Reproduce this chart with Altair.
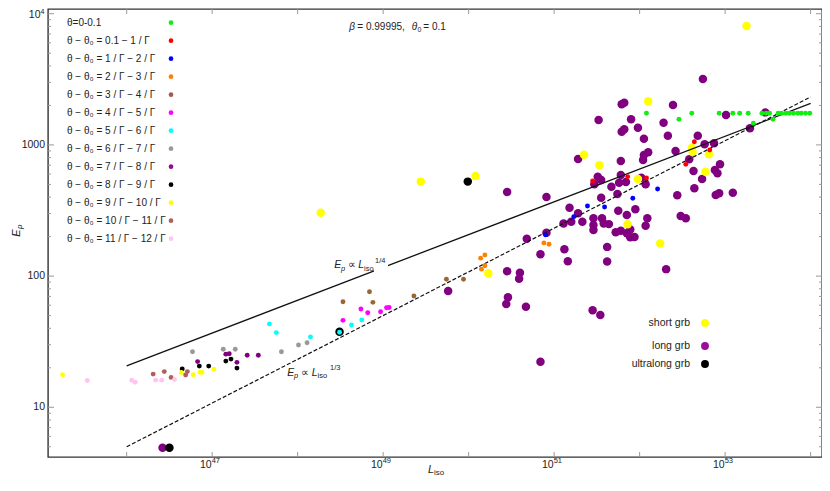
import altair as alt
import pandas as pd

# ---------------- values ----------------
# small points, one list pair per angle bin: log10(L_iso) and E_p
green_logL = [52.08, 52.46, 52.61, 52.93, 53.09, 53.17, 53.27, 53.33, 53.43, 53.48, 53.52,
              53.56, 53.62, 53.66, 53.71, 53.75, 53.80, 53.85, 53.89, 53.94, 53.99]
green_Ep = [1741, 1567, 1741, 1741, 1741, 1741, 1741, 1461, 1741, 1741, 1741,
            1567, 1741, 1741, 1741, 1741, 1741, 1741, 1741, 1741, 1741]
red_logL = [51.45, 51.86, 52.08, 52.54, 52.64, 52.82]
red_Ep = [531, 573, 560, 711, 1057, 914]
blue_logL = [50.90, 51.23, 51.39, 51.59, 51.92, 52.21]
blue_Ep = [206, 284, 342, 336, 392, 461]
orange_logL = [50.14, 50.19, 50.15, 50.19, 50.88, 50.94]
orange_Ep = [137, 145, 113, 120, 179, 175]
brown_logL = [48.53, 48.84, 48.88, 49.36, 49.74, 49.94]
brown_Ep = [63.8, 76.0, 63.1, 70.5, 94.6, 94.6]
magenta_logL = [48.53, 48.74, 48.82, 48.97, 49.04, 49.07]
magenta_Ep = [46.0, 56.1, 52.6, 53.5, 57.4, 57.6]
cyan_logL = [47.67, 47.75, 48.15, 48.49, 48.63, 48.75]
cyan_Ep = [43.2, 37.1, 34.4, 37.3, 42.4, 46.3]
gray_logL = [46.77, 47.13, 47.27, 47.81, 48.01, 48.11]
gray_Ep = [26.5, 27.7, 27.7, 26.5, 29.8, 31.0]
purple_logL = [46.83, 47.16, 47.20, 47.29, 47.41, 47.54]
purple_Ep = [22.3, 25.4, 25.6, 22.0, 24.9, 24.9]
black_logL = [46.65, 46.85, 46.96, 47.16, 47.22, 47.29]
black_Ep = [19.6, 20.6, 20.6, 22.5, 23.3, 19.9]
yellow_logL = [45.25, 46.64, 46.78, 46.86, 46.88, 47.02]
yellow_Ep = [17.7, 18.4, 17.7, 18.5, 18.5, 19.5]
rosy_logL = [46.31, 46.44, 46.52, 46.69, 46.71]
rosy_Ep = [17.9, 18.7, 16.9, 17.6, 18.7]
pink_logL = [45.54, 46.06, 46.10, 46.34, 46.41, 46.56]
pink_Ep = [16.0, 16.1, 15.5, 16.1, 16.1, 16.3]

theta_labels = ["θ=0-0.1", "θ − θ₀ = 0.1 − 1 / Γ", "θ − θ₀ = 1 / Γ − 2 / Γ",
                "θ − θ₀ = 2 / Γ − 3 / Γ", "θ − θ₀ = 3 / Γ − 4 / Γ", "θ − θ₀ = 4 / Γ − 5 / Γ",
                "θ − θ₀ = 5 / Γ − 6 / Γ", "θ − θ₀ = 6 / Γ − 7 / Γ", "θ − θ₀ = 7 / Γ − 8 / Γ",
                "θ − θ₀ = 8 / Γ − 9 / Γ", "θ − θ₀ = 9 / Γ − 10 / Γ", "θ − θ₀ = 10 / Γ − 11 / Γ",
                "θ − θ₀ = 11 / Γ − 12 / Γ"]
theta_colors = ["#11ee11", "#ff0000", "#0000ff", "#ff8000", "#9c6632", "#ff00ff", "#00ffff",
                "#999999", "#800080", "#000000", "#ffff00", "#b0605a", "#ffc4f0"]
theta_legend_colors = ["#11ee11", "#ff0000", "#0000ff", "#ff8000", "#a35a55", "#ff00ff", "#00ffff",
                       "#999999", "#8e0f8e", "#000000", "#ffff00", "#b0605a", "#ffc4f0"]

# big points: GRB classes
long_logL = [46.42, 52.74, 51.79, 51.82, 52.39, 51.52, 51.90, 53.01, 53.47, 51.79, 51.82, 51.98,
             52.28, 52.05, 52.33, 52.68, 53.29, 52.05, 52.10, 52.04, 52.42, 51.78, 51.28, 52.76,
             52.87, 52.58, 52.94, 52.63, 52.88, 52.91, 52.73, 51.51, 51.55, 51.47, 51.67, 51.78,
             51.84, 51.76, 52.02, 52.07, 51.55, 51.74, 52.64, 52.44, 52.89, 52.93, 53.09, 50.91,
             50.45, 51.18, 51.28, 51.33, 51.46, 51.46, 51.46, 51.56, 51.58, 51.64, 51.75, 51.85,
             51.95, 52.09, 52.07, 52.48, 52.54, 51.11, 51.20, 51.72, 51.78, 51.89, 51.85, 51.89,
             51.94, 50.68, 50.91, 51.62, 51.12, 50.84, 51.16, 51.62, 50.45, 50.60, 50.59, 49.76,
             50.46, 50.44, 50.67, 51.45, 51.54, 52.31, 50.84]
long_Ep = [4.92, 3177, 2038, 2097, 2014, 1549, 1567, 1690, 1770, 1262, 1315, 1352,
           1477, 1115, 1175, 1175, 1339, 837, 879, 767, 899, 754, 780, 1011,
           1028, 776, 711, 632, 644, 608, 550, 573, 540, 501, 480, 590,
           522, 515, 562, 501, 396, 423, 467, 413, 415, 428, 432, 401,
           438, 332, 301, 260, 276, 245, 225, 276, 252, 249, 315, 292,
           323, 276, 242, 287, 276, 252, 260, 216, 222, 227, 212, 198,
           199, 193, 214, 167, 160, 147, 130, 129, 109, 106, 95.5, 76.9,
           68.9, 61.2, 58.5, 54.8, 50.5, 113, 22.2]
ultra_logL = [46.50, 48.49, 49.99]
ultra_Ep = [4.92, 37.7, 525]
short_logL = [53.25, 48.27, 49.44, 50.08, 51.35, 51.53, 52.10, 51.98, 51.86, 52.24, 52.61,
              52.62, 52.81, 52.77, 50.23]
short_Ep = [8050, 304, 525, 580, 842, 699, 2148, 550, 248, 177, 953, 883, 848, 625, 105]

grb_labels = ["short grb", "long grb", "ultralong grb"]
grb_colors = ["#ffff00", "#800080", "#000000"]
grb_legend_colors = ["#ffff00", "#9a109a", "#000000"]

# reference relations (end points)
line_L = [1e46, 1e54]
quarter_Ep = [20.7, 2070]
third_Ep = [5.0, 2320]

# axis ticks and labels
x_major = [1e46, 1e47, 1e48, 1e49, 1e50, 1e51, 1e52, 1e53, 1e54]
x_label_vals = [1e47, 1e49, 1e51, 1e53]
x_label_sup = ["47", "49", "51", "53"]
y_major = [10, 100, 1000, 10000]
y_label_vals = [10, 100, 1000]
y_label_text = ["10", "100", "1000"]
y_sup_vals = [10000]
y_sup_text = ["4"]

# ---------------- chart ----------------
W, H = 774, 448
FONT = "Liberation Sans, Arial, sans-serif"
TXT = "#222222"
xs = alt.Scale(type="log", domain=[10 ** 45.08, 10 ** 54.133], nice=False)
ys = alt.Scale(type="log", domain=[10 ** 0.621, 10 ** 4.036], nice=False)

small_sets = [(green_logL, green_Ep), (red_logL, red_Ep), (blue_logL, blue_Ep),
              (orange_logL, orange_Ep), (brown_logL, brown_Ep), (magenta_logL, magenta_Ep),
              (cyan_logL, cyan_Ep), (gray_logL, gray_Ep), (purple_logL, purple_Ep),
              (black_logL, black_Ep), (yellow_logL, yellow_Ep), (rosy_logL, rosy_Ep),
              (pink_logL, pink_Ep)]
rows = []
for i, (ll, ee) in enumerate(small_sets):
    for a, b in zip(ll, ee):
        rows.append({"L": 10 ** a, "Ep": b, "col": theta_colors[i]})
small_df = pd.DataFrame(rows)

big_rows = []
for ll, ee, c in [(long_logL, long_Ep, grb_colors[1]), (ultra_logL, ultra_Ep, grb_colors[2]),
                  (short_logL, short_Ep, grb_colors[0])]:
    for a, b in zip(ll, ee):
        big_rows.append({"L": 10 ** a, "Ep": b, "col": c})
big_df = pd.DataFrame(big_rows)

lines_df = pd.DataFrame({"L": line_L * 2, "Ep": quarter_Ep + third_Ep,
                         "rel": ["q", "q", "t", "t"]})

X = lambda f: alt.X(f, scale=xs, axis=None)
Y = lambda f: alt.Y(f, scale=ys, axis=None)

one = pd.DataFrame({"k": [0]})


def txt(s, x, y, size=10.0, italic=False, align="left", angle=0, dx=0, dy=0):
    kw = dict(text=s, fontSize=size, align=align, baseline="middle", font=FONT, color=TXT)
    if italic:
        kw["fontStyle"] = "italic"
    if angle:
        kw["angle"] = angle
    if dx:
        kw["dx"] = dx
    if dy:
        kw["dy"] = dy
    return alt.Chart(one).mark_text(**kw).encode(x=alt.value(x), y=alt.value(y))


layers = []
# inward ticks
xt = pd.DataFrame({"v": x_major})
layers.append(alt.Chart(xt).mark_rule(color="#999999", strokeWidth=1).encode(
    x=X("v:Q"), y=alt.value(H), y2=alt.value(H - 5)))
layers.append(alt.Chart(xt).mark_rule(color="#999999", strokeWidth=1).encode(
    x=X("v:Q"), y=alt.value(0), y2=alt.value(5)))
y_minor = [m * 10 ** k for k in range(0, 4) for m in range(2, 10) if m * 10 ** k > 4.2]
ytM = pd.DataFrame({"v": y_major})
ytm = pd.DataFrame({"v": y_minor})
for df, ln in [(ytM, 6), (ytm, 3)]:
    layers.append(alt.Chart(df).mark_rule(color="#999999", strokeWidth=1).encode(
        y=Y("v:Q"), x=alt.value(0), x2=alt.value(ln)))
    layers.append(alt.Chart(df).mark_rule(color="#999999", strokeWidth=1).encode(
        y=Y("v:Q"), x=alt.value(W), x2=alt.value(W - ln)))

# tick labels
xl = pd.DataFrame({"v": x_label_vals, "base": ["10"] * len(x_label_vals), "sup": x_label_sup})
layers.append(alt.Chart(xl).mark_text(align="right", baseline="middle", fontSize=10.5, font=FONT,
                                      color=TXT, dx=-0.5).encode(
    x=X("v:Q"), y=alt.value(H + 8), text="base:N"))
layers.append(alt.Chart(xl).mark_text(align="left", baseline="middle", fontSize=7.5, font=FONT,
                                      color=TXT, dx=-0.5).encode(
    x=X("v:Q"), y=alt.value(H + 3.5), text="sup:N"))
yl = pd.DataFrame({"v": y_label_vals, "t": y_label_text})
layers.append(alt.Chart(yl).mark_text(align="right", baseline="middle", fontSize=10.5, font=FONT,
                                      color=TXT).encode(
    y=Y("v:Q"), x=alt.value(-3), text="t:N"))
ysu = pd.DataFrame({"v": y_sup_vals, "t": y_sup_text, "b": ["10"]})
layers.append(alt.Chart(ysu).mark_text(align="right", baseline="middle", fontSize=10.5, font=FONT,
                                       color=TXT, dy=1).encode(
    y=Y("v:Q"), x=alt.value(-7.5), text="b:N"))
layers.append(alt.Chart(ysu).mark_text(align="right", baseline="middle", fontSize=7, font=FONT,
                                       color=TXT, dy=-1.5).encode(
    y=Y("v:Q"), x=alt.value(-3.5), text="t:N"))

# big GRB points
layers.append(alt.Chart(big_df).mark_circle(size=72, opacity=1).encode(
    x=X("L:Q"), y=Y("Ep:Q"), color=alt.Color("col:N", scale=None)))

# relation lines
layers.append(alt.Chart(lines_df).transform_filter("datum.rel == 'q'").mark_line(
    color="#111111", strokeWidth=1.3).encode(x=X("L:Q"), y=Y("Ep:Q")))
layers.append(alt.Chart(lines_df).transform_filter("datum.rel == 't'").mark_line(
    color="#111111", strokeWidth=1.2, strokeDash=[4, 2]).encode(x=X("L:Q"), y=Y("Ep:Q")))
layers.append(alt.Chart(one).mark_rect(color="white").encode(
    x=alt.value(326), x2=alt.value(340), y=alt.value(246), y2=alt.value(264)))

# small points
layers.append(alt.Chart(small_df).mark_circle(size=24, opacity=1).encode(
    x=X("L:Q"), y=Y("Ep:Q"), color=alt.Color("col:N", scale=None)))

# theta legend
tl = pd.DataFrame({"label": theta_labels, "col": theta_legend_colors,
                   "ypx": [13.7 + 18.0 * i for i in range(len(theta_labels))]})
layers.append(alt.Chart(tl).mark_text(align="left", baseline="middle", fontSize=10, font=FONT,
                                      color=TXT).encode(
    x=alt.value(19), y=alt.Y("ypx:Q", scale=None, axis=None), text="label:N"))
layers.append(alt.Chart(tl).mark_circle(size=22, opacity=1).encode(
    x=alt.value(123), y=alt.Y("ypx:Q", scale=None, axis=None), color=alt.Color("col:N", scale=None)))

# grb legend
gl = pd.DataFrame({"label": grb_labels, "col": grb_legend_colors, "ypx": [314, 337, 355]})
layers.append(alt.Chart(gl).mark_text(align="right", baseline="middle", fontSize=10.5, font=FONT,
                                      color=TXT).encode(
    x=alt.value(642), y=alt.Y("ypx:Q", scale=None, axis=None), text="label:N"))
layers.append(alt.Chart(gl).mark_circle(size=62, opacity=1).encode(
    x=alt.value(657), y=alt.Y("ypx:Q", scale=None, axis=None), color=alt.Color("col:N", scale=None)))

# annotations
layers += [
    txt("E", 286.3, 256, 10.5, True), txt("p", 293, 259.5, 7.5, True), txt("∝", 300, 256, 10.5),
    txt("L", 310.3, 256, 10.5, True), txt("iso", 316, 259.5, 7.5), txt("1/4", 327, 252, 7.5),
    txt("E", 239.3, 363.7, 10.5, True), txt("p", 246, 367.2, 7.5, True), txt("∝", 253, 363.7, 10.5),
    txt("L", 263.7, 363.7, 10.5, True), txt("iso", 269.5, 367.2, 7.5), txt("1/3", 282, 358.5, 7.5),
    txt("β", 301.3, 17.7, 10, True), txt("= 0.99995,", 309.3, 17.7, 10),
    txt("θ", 363.7, 17.7, 10, True), txt("0", 369.5, 20.5, 7), txt("= 0.1", 375.3, 17.7, 10),
    # axis titles
    txt("L", 380, 461, 11, True), txt("iso", 386, 464, 8),
    txt("E", -31, 224, 11, True, align="center", angle=270),
    txt("p", -31, 224, 8, True, align="left", angle=270, dx=4, dy=3),
]

chart = alt.layer(*layers).properties(
    width=W, height=H,
    padding={"left": 40, "top": 1, "right": 0, "bottom": 21},
    autosize=alt.AutoSizeParams(type="none"),
    background="white",
).configure_view(stroke="#333333", strokeWidth=1.4)

chart.save("out.html", embed_options={"renderer": "svg", "actions": False})
